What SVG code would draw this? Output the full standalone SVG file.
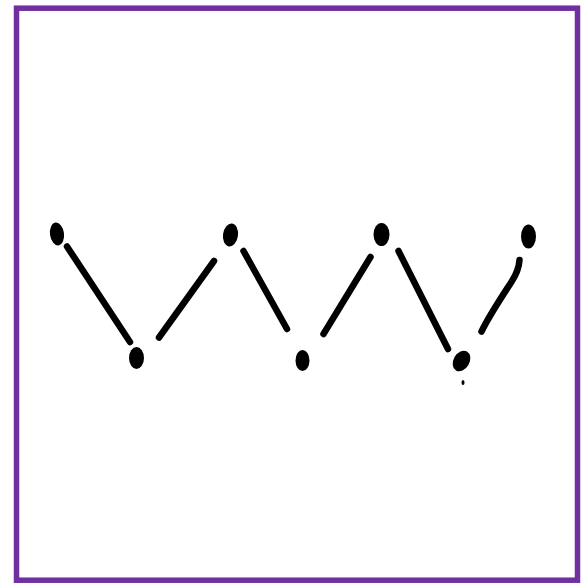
<svg xmlns="http://www.w3.org/2000/svg" width="584" height="583" viewBox="0 0 584 583">
<style>
.frame{fill:#ffffff;stroke:#7030a0;stroke-width:5.5}
.dot{fill:#000000}
.edge{stroke:#000000;stroke-width:6.5;stroke-linecap:round;stroke-linejoin:round;fill:none}
</style>
<rect class="frame" x="16.5" y="8.2" width="561" height="572"/>
<g id="connectors">
<line class="edge" x1="67" y1="246.5" x2="130" y2="342"/>
<line class="edge" x1="159" y1="337.5" x2="214" y2="261"/>
<line class="edge" x1="243.5" y1="251" x2="287" y2="329"/>
<line class="edge" x1="323.5" y1="334" x2="370.5" y2="257"/>
<line class="edge" x1="398.5" y1="251" x2="448" y2="349"/>
<path class="edge" d="M481.5 331.5 C490 314 505 292 512 281 C516.5 274 519 267 519.5 260"/>
</g>
<g id="n1"><ellipse class="dot" cx="57" cy="234" rx="7" ry="11.5" transform="rotate(-8 57 234)"/></g>
<g id="n2"><ellipse class="dot" cx="136.5" cy="358" rx="7.5" ry="11"/></g>
<g id="n3"><ellipse class="dot" cx="230.5" cy="235" rx="7.5" ry="11.5" transform="rotate(8 230.5 235)"/></g>
<g id="n4"><ellipse class="dot" cx="302.5" cy="360.5" rx="7" ry="10.5"/></g>
<g id="n5"><ellipse class="dot" cx="381.5" cy="234.5" rx="8" ry="11.5"/></g>
<g id="n6"><ellipse class="dot" cx="461.5" cy="361" rx="8" ry="11" transform="rotate(30 461.5 361)"/><ellipse class="dot" cx="463" cy="382.5" rx="1.5" ry="2.5"/></g>
<g id="n7"><ellipse class="dot" cx="528.5" cy="236.5" rx="7.5" ry="12"/></g>
</svg>
